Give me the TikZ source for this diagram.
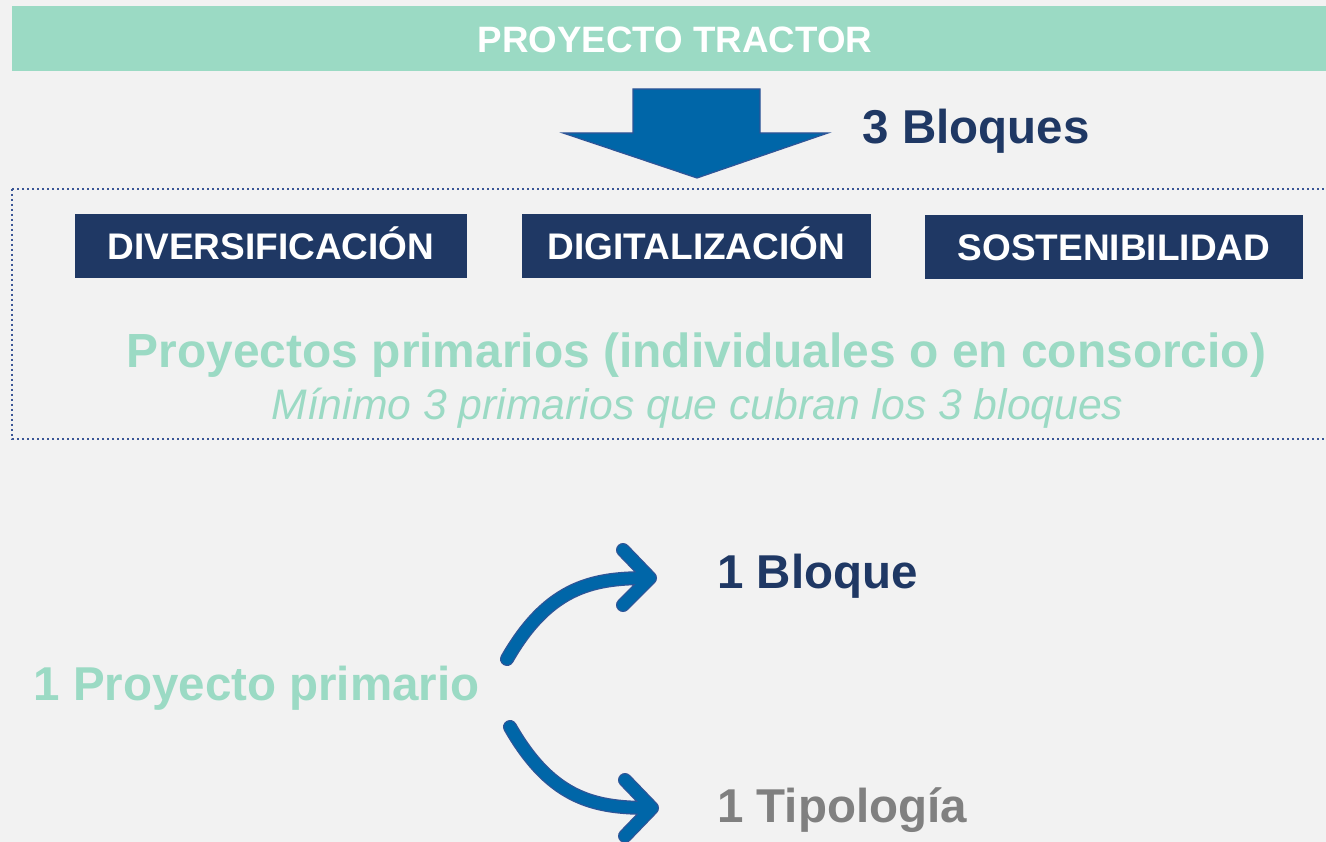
\documentclass[tikz,border=0pt]{standalone}
\usepackage{fontspec}
\setmainfont{Liberation Sans}
\definecolor{bg}{RGB}{242,242,242}
\definecolor{mint}{RGB}{155,218,196}
\definecolor{navy}{RGB}{31,56,100}
\definecolor{grayt}{RGB}{128,128,128}
\definecolor{arrblue}{RGB}{0,102,168}
\definecolor{arredge}{RGB}{47,85,151}
\definecolor{dotc}{RGB}{59,86,150}
\tikzset{
  bigtxt/.style={font=\fontsize{47.5}{56}\selectfont\bfseries, inner sep=0pt},
  blockbox/.style={fill=navy, text=white, minimum width=#1, minimum height=64pt,
     inner sep=0pt, text height=26.5pt, text depth=0pt,
     font=\fontsize{37}{44}\selectfont\bfseries},
  curveouter/.style={draw=arredge, line width=14pt, line cap=round, line join=round},
  curveinner/.style={draw=arrblue, line width=11.5pt, line cap=round, line join=round},
}
\begin{document}
\begin{tikzpicture}[x=1pt,y=-1pt]
\useasboundingbox (0,0) rectangle (1326,842);
\clip (0,0) rectangle (1326,842);
\fill[bg] (0,0) rectangle (1326,842);

% banner
\fill[mint] (12,6) rectangle (1330,71);
\node[font=\fontsize{36.7}{44}\selectfont\bfseries, text=white, inner sep=0pt, anchor=base] (banner) at (675,53) {PROYECTO TRACTOR};

% down arrow
\filldraw[fill=arrblue, draw=arredge, line width=1.2pt, line join=miter]
  (633,89) -- (760,89) -- (760,133) -- (828,133) -- (697,178) -- (563,133) -- (633,133) -- cycle;
\node[bigtxt, text=navy, anchor=base] (tres) at (976,144) {3 Bloques};

% dotted frame
\draw[dotc, line width=2.2pt, dash pattern=on 2pt off 3pt] (12,189) -- (1340,189);
\draw[dotc, line width=2.2pt, dash pattern=on 2pt off 3pt] (12,189) -- (12,439) -- (1340,439);

% blocks
\node[blockbox=392pt] (div) at (271,246) {DIVERSIFICACIÓN};
\node[blockbox=349pt] (dig) at (696.5,246) {DIGITALIZACIÓN};
\node[blockbox=378pt] (sos) at (1114,247) {SOSTENIBILIDAD};

\node[font=\fontsize{47.9}{56}\selectfont\bfseries, text=mint, inner sep=0pt, anchor=base] (prims) at (696.5,367) {Proyectos primarios (individuales o en consorcio)};
\node[font=\fontsize{42.7}{50}\selectfont\itshape, text=mint, inner sep=0pt, anchor=base] (minimo) at (697.5,420) {Mínimo 3 primarios que cubran los 3 bloques};

% bottom part
\node[bigtxt, text=mint, anchor=base] (prim) at (256.5,700) {1 Proyecto primario};
\node[bigtxt, text=navy, anchor=base west] (bloque) at (717,588) {1 Bloque};
\node[bigtxt, text=grayt, anchor=base west] (tipo) at (717,822) {1 Tipología};

\coordinate (s1) at (507,659);
\coordinate (t1) at (650,578);
\coordinate (b1a) at (623,550);
\coordinate (b1b) at (623,605);
\coordinate (s2) at (510,727);
\coordinate (t2) at (652,808);
\coordinate (b2a) at (625,780);
\coordinate (b2b) at (625,836);

\foreach \st in {curveouter,curveinner}{
  \path[\st] (s1) .. controls (550,584) and (596,578) .. (t1) (b1a) -- (t1) -- (b1b);
  \path[\st] (s2) .. controls (553,802) and (598,808) .. (t2) (b2a) -- (t2) -- (b2b);
}
\end{tikzpicture}
\end{document}
